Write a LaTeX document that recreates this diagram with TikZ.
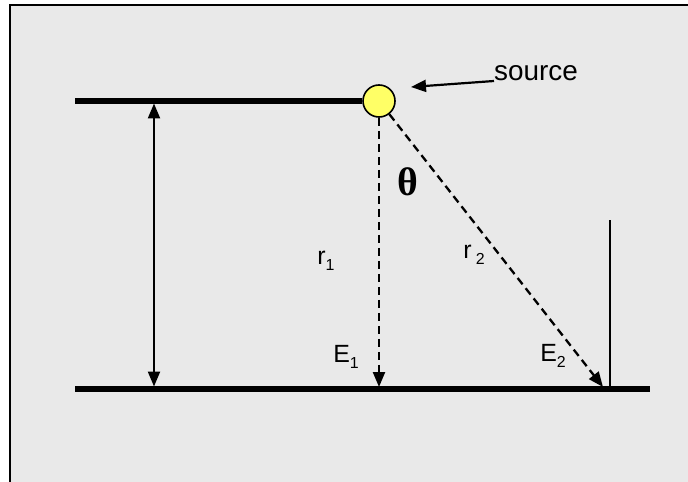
\documentclass[tikz,border=0pt]{standalone}
\usepackage{fontspec}
\setmainfont{Liberation Sans}
\newfontfamily\thetafont{Liberation Serif}
\usetikzlibrary{positioning,arrows.meta}
\definecolor{panelgray}{HTML}{E9E9E9}
\definecolor{srcyellow}{HTML}{FFFF66}
\newcommand{\lowsub}[1]{\raisebox{-0.45ex}{\fontsize{16}{16}\selectfont #1}}
\tikzset{
  plate/.style={line width=5.5bp},
  rayline/.style={dashed, dash pattern=on 8bp off 5bp, line width=2.3bp, -{Triangle[length=15bp,width=12bp]}},
  gapline/.style={line width=2.2bp, {Triangle[length=15bp,width=12bp]}-{Triangle[length=15bp,width=12bp]}},
  pointer/.style={line width=2.2bp, -{Triangle[length=15bp,width=12bp]}},
  srcdot/.style={circle, draw, line width=1.6bp, fill=srcyellow, minimum size=32bp, inner sep=0pt},
  lbl/.style={font=\fontsize{25}{25}\selectfont, inner sep=0pt}
}

\begin{document}
\begin{tikzpicture}[x=1bp, y=-1bp]
  \useasboundingbox (0,0) rectangle (688,482);
  % panel
  \fill[panelgray] (10,5) rectangle (688,482);
  \draw[line width=2bp] (10,482) -- (10,5) -- (688,5);
  % plates and source
  \node[srcdot] (src) at (379,101) {};
  \coordinate (topleft) at (75,101);
  \coordinate (botleft) at (75,389);
  \coordinate (botright) at (650,389);
  \coordinate (gaptop) at (154,103.5);
  \coordinate (gapbot) at (154,386.5);
  \coordinate (e1tip) at (379,387);
  \coordinate (e2tip) at (603,387);
  \coordinate (markbot) at (610,389);
  \coordinate (marktop) at (610,220);
  \coordinate (srctip) at (411,87);
  \draw[plate] (topleft) -- (src.west);
  \draw[plate] (botleft) -- (botright);
  \draw[gapline] (gaptop) -- (gapbot);
  \draw[rayline] (src.south) -- (e1tip);
  \draw[rayline] (src) -- (e2tip);
  \draw[line width=2bp] (markbot) -- (marktop);
  % labels
  \node[font=\fontsize{28}{28}\selectfont, inner sep=0pt, anchor=base west] (srclbl) at (494,81) {source};
  \draw[pointer] (srclbl.base west) -- (srctip);
  \node[inner sep=0pt] (theta) at (408,182) {\fontsize{40}{40}\selectfont\thetafont\bfseries θ};
  \node[lbl] (r1) at (326,261) {r\lowsub{1}};
  \node[lbl] (r2) at (474,255) {r\,\lowsub{2}};
  \node[lbl] (e1) at (346,357) {E\lowsub{1}};
  \node[lbl] (e2) at (553,356) {E\lowsub{2}};
\end{tikzpicture}
\end{document}
